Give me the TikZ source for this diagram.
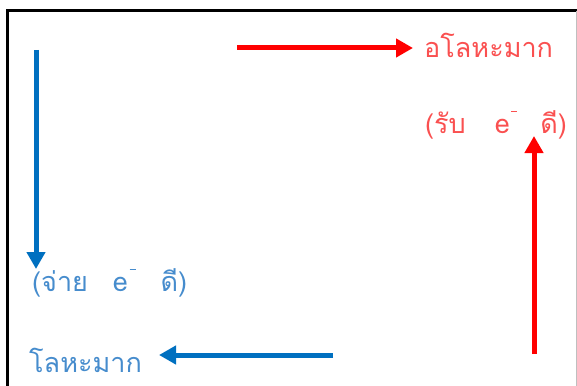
\documentclass[tikz,border=0pt]{standalone}
\usepackage{fontspec}
\usetikzlibrary{arrows.meta}
\newfontfamily\thaifont[Script=Thai]{Loma}
\definecolor{myred}{RGB}{255,0,0}
\definecolor{myredtext}{RGB}{250,80,80}
\definecolor{myblue}{RGB}{0,112,192}
\definecolor{mybluetext}{RGB}{70,140,205}
\newcommand{\eminus}{e\kern1.5pt\rule[22pt]{6pt}{1.2pt}}
\tikzset{
  redarrow/.style={draw=myred,line width=5pt,-{Triangle[length=17pt,width=18pt]}},
  bluearrow/.style={draw=myblue,line width=5pt,-{Triangle[length=17pt,width=18pt]}},
  thtext/.style={font=\thaifont\fontsize{27}{30}\selectfont,inner sep=0pt,anchor=west},
}
\begin{document}
\begin{tikzpicture}[x=1pt,y=-1pt]
\useasboundingbox (0,0) rectangle (577,385);
\clip (0,0) rectangle (577,385);
\fill[white] (0,0) rectangle (577,385);
\draw[line width=3pt] (7,395) -- (7,11) -- (580,11);
\draw[line width=0.6pt,black!25] (576.5,11) -- (576.5,395);
% texts
\node[thtext,text=myredtext] (nonmetal) at (424,45) {อโลหะมาก};
\node[thtext,text=myredtext] (gain) at (425,125) {(รับ\hspace{29pt}\eminus\hspace{23pt}ดี)};
\node[thtext,text=mybluetext] (give) at (32,283) {(จ่าย\hspace{25pt}\eminus\hspace{25pt}ดี)};
\node[thtext,text=mybluetext] (metal) at (29,360) {โลหะมาก};
% arrow coordinates
\coordinate (r1s) at (237,48);
\coordinate (r1e) at (413,48);
\coordinate (r2s) at (534,354);
\coordinate (r2e) at (534,136);
\coordinate (b1s) at (36,50);
\coordinate (b1e) at (36,269);
\coordinate (b2s) at (333,355);
\coordinate (b2e) at (159,355);
\draw[redarrow] (r1s) -- (r1e);
\draw[redarrow] (r2s) -- (r2e);
\draw[bluearrow] (b1s) -- (b1e);
\draw[bluearrow] (b2s) -- (b2e);
\end{tikzpicture}
\end{document}
